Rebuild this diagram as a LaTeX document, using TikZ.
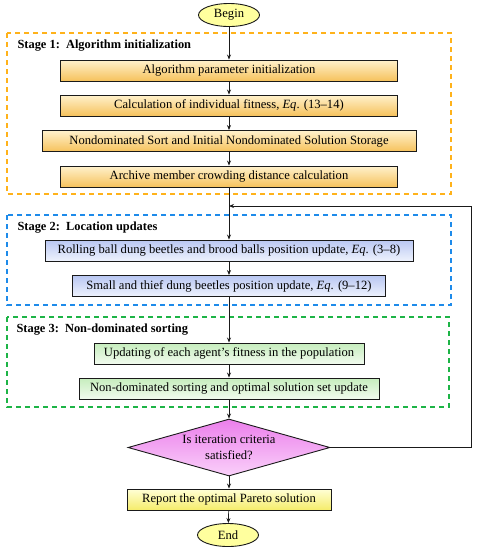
\documentclass[tikz,border=0pt]{standalone}
\usepackage{fontspec}
\setmainfont{Liberation Serif}
\usepackage{tikz}
\usetikzlibrary{arrows.meta,shapes.geometric,calc}
\definecolor{ink}{HTML}{1A1A1A}
\definecolor{orgtop}{HTML}{FFF1CC}
\definecolor{orgbot}{HTML}{F6C25C}
\definecolor{blutop}{HTML}{B9C7F2}
\definecolor{blubot}{HTML}{EEF2FD}
\definecolor{grntop}{HTML}{C6EDBD}
\definecolor{grnbot}{HTML}{F1FBEE}
\definecolor{pnktop}{HTML}{EB7FEB}
\definecolor{pnkbot}{HTML}{FAD0FA}
\definecolor{yeltop}{HTML}{FFFFD6}
\definecolor{yelbot}{HTML}{F5EC6A}
\definecolor{termfill}{HTML}{FFFF9E}
\definecolor{frameorg}{HTML}{FFB21A}
\definecolor{frameblu}{HTML}{1E8BEA}
\definecolor{framegrn}{HTML}{1DB446}
\tikzset{
  procbox/.style={draw=ink,line width=0.9pt,minimum height=21pt,inner sep=2pt,
                  font=\fontsize{12.6}{14}\selectfont},
  initbox/.style={procbox,top color=orgtop,bottom color=orgbot},
  locbox/.style={procbox,top color=blutop,bottom color=blubot},
  sortbox/.style={procbox,top color=grntop,bottom color=grnbot},
  reportbox/.style={procbox,top color=yeltop,bottom color=yelbot},
  terminal/.style={ellipse,draw=ink,line width=0.9pt,fill=termfill,
                   minimum width=61pt,minimum height=23pt,inner sep=0pt,
                   font=\fontsize{12.6}{14}\selectfont},
  decision/.style={diamond,draw=ink,line width=0.9pt,aspect=3.5,
                   top color=pnktop,bottom color=pnkbot,inner sep=0pt,
                   minimum width=202pt,minimum height=57pt,align=center,
                   font=\fontsize{12.6}{16}\selectfont},
  stageframe/.style={dashed,line width=1.3pt,dash pattern=on 5pt off 4pt},
  stagelabel/.style={anchor=west,font=\fontsize{12.4}{14}\selectfont\bfseries},
  arr/.style={-{Stealth[length=5pt,width=4pt]},line width=0.7pt,ink},
}
\begin{document}
\begin{tikzpicture}[x=1pt,y=1pt]
  \useasboundingbox (0,0) rectangle (477,-550);

  % Stage frames
  \draw[stageframe,frameorg](7,-33)rectangle(451,-194);
  \draw[stageframe,frameblu](7,-215)rectangle(451,-305);
  \draw[stageframe,framegrn](7,-317)rectangle(449,-407);
  \node[stagelabel](lab1)at(14,-46){Stage 1:\ \ Algorithm initialization};
  \node[stagelabel](lab2)at(14,-228){Stage 2:\ \ Location updates};
  \node[stagelabel](lab3)at(13,-330){Stage 3:\ \ Non-dominated sorting};

  % Flow
  \node[terminal](begin)at(229,-15){Begin};
  \node[initbox,minimum width=337pt](init)at(229,-70.5)
    {Algorithm parameter initialization};
  \node[initbox,minimum width=337pt](fit)at(229,-105.5)
    {Calculation of individual fitness, \textit{Eq}. (13--14)};
  \node[initbox,minimum width=374pt](store)at(229,-141)
    {Nondominated Sort and Initial Nondominated Solution Storage};
  \node[initbox,minimum width=337pt](crowd)at(229,-176.5)
    {Archive member crowding distance calculation};
  \node[locbox,minimum width=368pt](roll)at(229,-250.5)
    {Rolling ball dung beetles and brood balls position update, \textit{Eq}. (3--8)};
  \node[locbox,minimum width=313pt](thief)at(229,-286)
    {Small and thief dung beetles position update, \textit{Eq}. (9--12)};
  \node[sortbox,minimum width=270pt](agent)at(229,-353.5)
    {Updating of each agent{\char"0027}s fitness in the population};
  \node[sortbox,minimum width=300pt](nds)at(229,-388.5)
    {Non-dominated sorting and optimal solution set update};
  \node[decision](check)at(229,-447.5){Is iteration criteria\\satisfied?};
  \node[reportbox,minimum width=204pt](report)at(229,-499.5)
    {Report the optimal Pareto solution};
  \node[terminal](end)at(228,-535){End};

  \draw[arr](begin)--(init);
  \draw[arr](init)--(fit);
  \draw[arr](fit)--(store);
  \draw[arr](store)--(crowd);
  \draw[arr](crowd)--(roll);
  \draw[arr](roll)--(thief);
  \draw[arr](thief)--(agent);
  \draw[arr](agent)--(nds);
  \draw[arr](nds)--(check);
  \draw[arr](check)--(report);
  \draw[arr](report)--(end);

  % Loop back
  \coordinate(merge)at(229,-206);
  \coordinate(back)at(471,-206);
  \draw[arr](check.east)-|(back)--(merge);
\end{tikzpicture}
\end{document}
